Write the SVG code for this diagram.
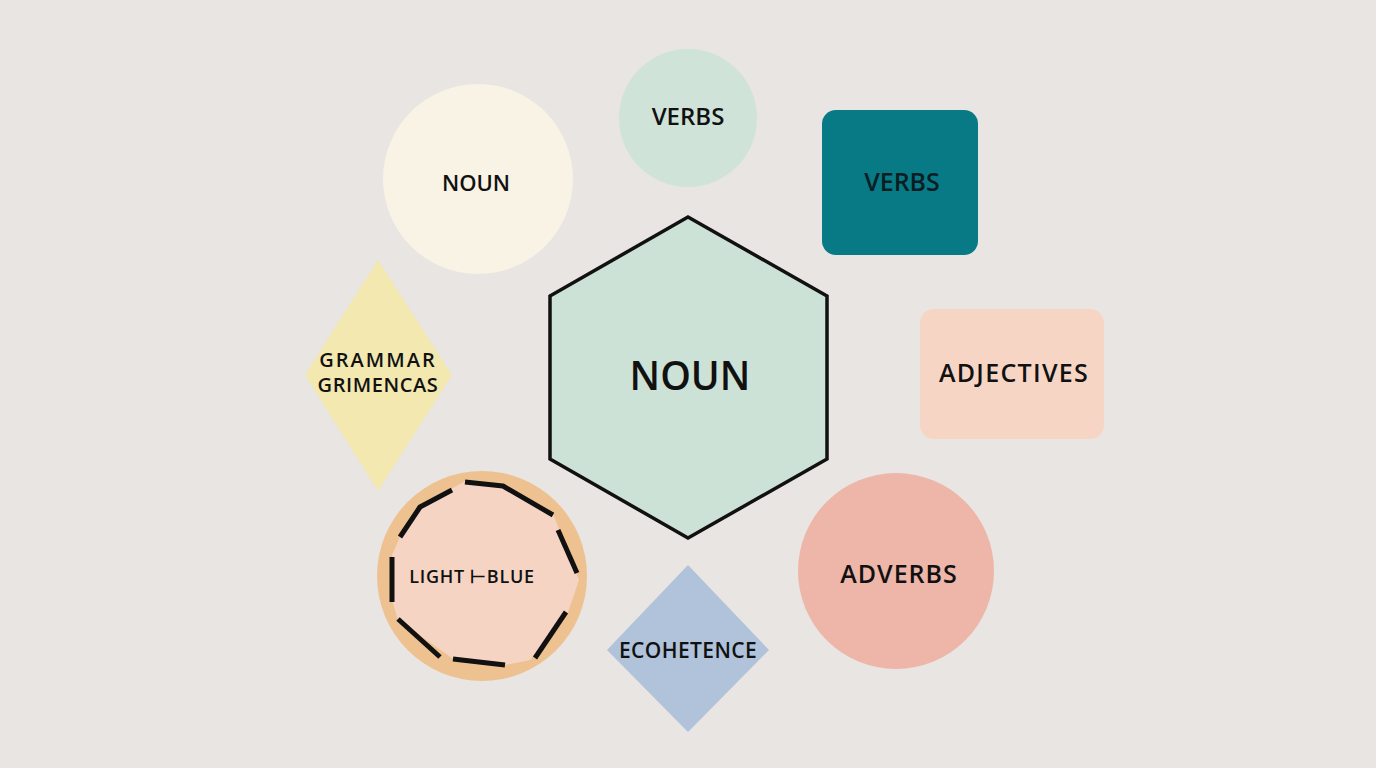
<svg xmlns="http://www.w3.org/2000/svg" width="1376" height="768" viewBox="0 0 1376 768">
<style>
.t{font-family:"Open Sans","Noto Sans","Liberation Sans",sans-serif;font-weight:600;fill:#111;text-anchor:middle}
.dash{fill:none;stroke:#111;stroke-width:5;stroke-linecap:butt;stroke-linejoin:round}
</style>
<rect width="1376" height="768" fill="#E8E5E2"/>
<g id="connectors"></g>
<g id="noun-circle">
<circle cx="478" cy="179" r="95" fill="#F8F3E5"/>
<text class="t" x="476" y="191" font-size="22">NOUN</text>
</g>
<g id="verbs-circle">
<circle cx="688" cy="118" r="69" fill="#CFE3D8"/>
<text class="t" x="688" y="125" font-size="24">VERBS</text>
</g>
<g id="verbs-rect">
<rect x="822" y="110" width="156" height="145" rx="14" fill="#077A86"/>
<text class="t" x="902" y="191" font-size="25" style="fill:#0B1D22">VERBS</text>
</g>
<g id="adjectives">
<rect x="920" y="309" width="184" height="130" rx="14" fill="#F7D5C5"/>
<text class="t" x="1014" y="382" font-size="25" letter-spacing="1.3">ADJECTIVES</text>
</g>
<g id="adverbs">
<circle cx="896" cy="571" r="98" fill="#EEB6A9"/>
<text class="t" x="899" y="583" font-size="25" letter-spacing="1">ADVERBS</text>
</g>
<g id="grammar">
<polygon points="378,260 452,375 378,491 305,375" fill="#F2E8B0"/>
<text class="t" x="378" y="367" font-size="20" letter-spacing="2">GRAMMAR</text>
<text class="t" x="378" y="392" font-size="20" letter-spacing="0.6">GRIMENCAS</text>
</g>
<g id="noun-hexagon">
<polygon points="688,217 827,296 827,459 688,538 550,459 550,296" fill="#CDE2D6" stroke="#111" stroke-width="3.5"/>
<text class="t" x="690" y="390" font-size="39">NOUN</text>
</g>
<g id="light-blue">
<circle cx="482" cy="576" r="105" fill="#EEC290"/>
<polygon points="465,481 505,486 553,514 579,580 568,612 530,660 505,665 452,658 398,620 392,600 392,555 400,537 422,506" fill="#F6D4C4"/>
<polyline class="dash" points="465,482 503,486 553,515"/>
<polyline class="dash" points="558,530 577,573"/>
<polyline class="dash" points="566,612 535,658"/>
<polyline class="dash" points="505,665 453,659"/>
<polyline class="dash" points="440,657 398,619"/>
<polyline class="dash" points="392,602 392,557"/>
<polyline class="dash" points="400,537 420,507 452,490"/>
<text class="t" x="472" y="583" font-size="18" letter-spacing="0.7">LIGHT ⊢BLUE</text>
</g>
<g id="ecohetence">
<polygon points="688,565 769,650 688,732 607,650" fill="#B0C3DA"/>
<text class="t" x="688" y="658" font-size="21" letter-spacing="0.4">ECOHETENCE</text>
</g>
</svg>
